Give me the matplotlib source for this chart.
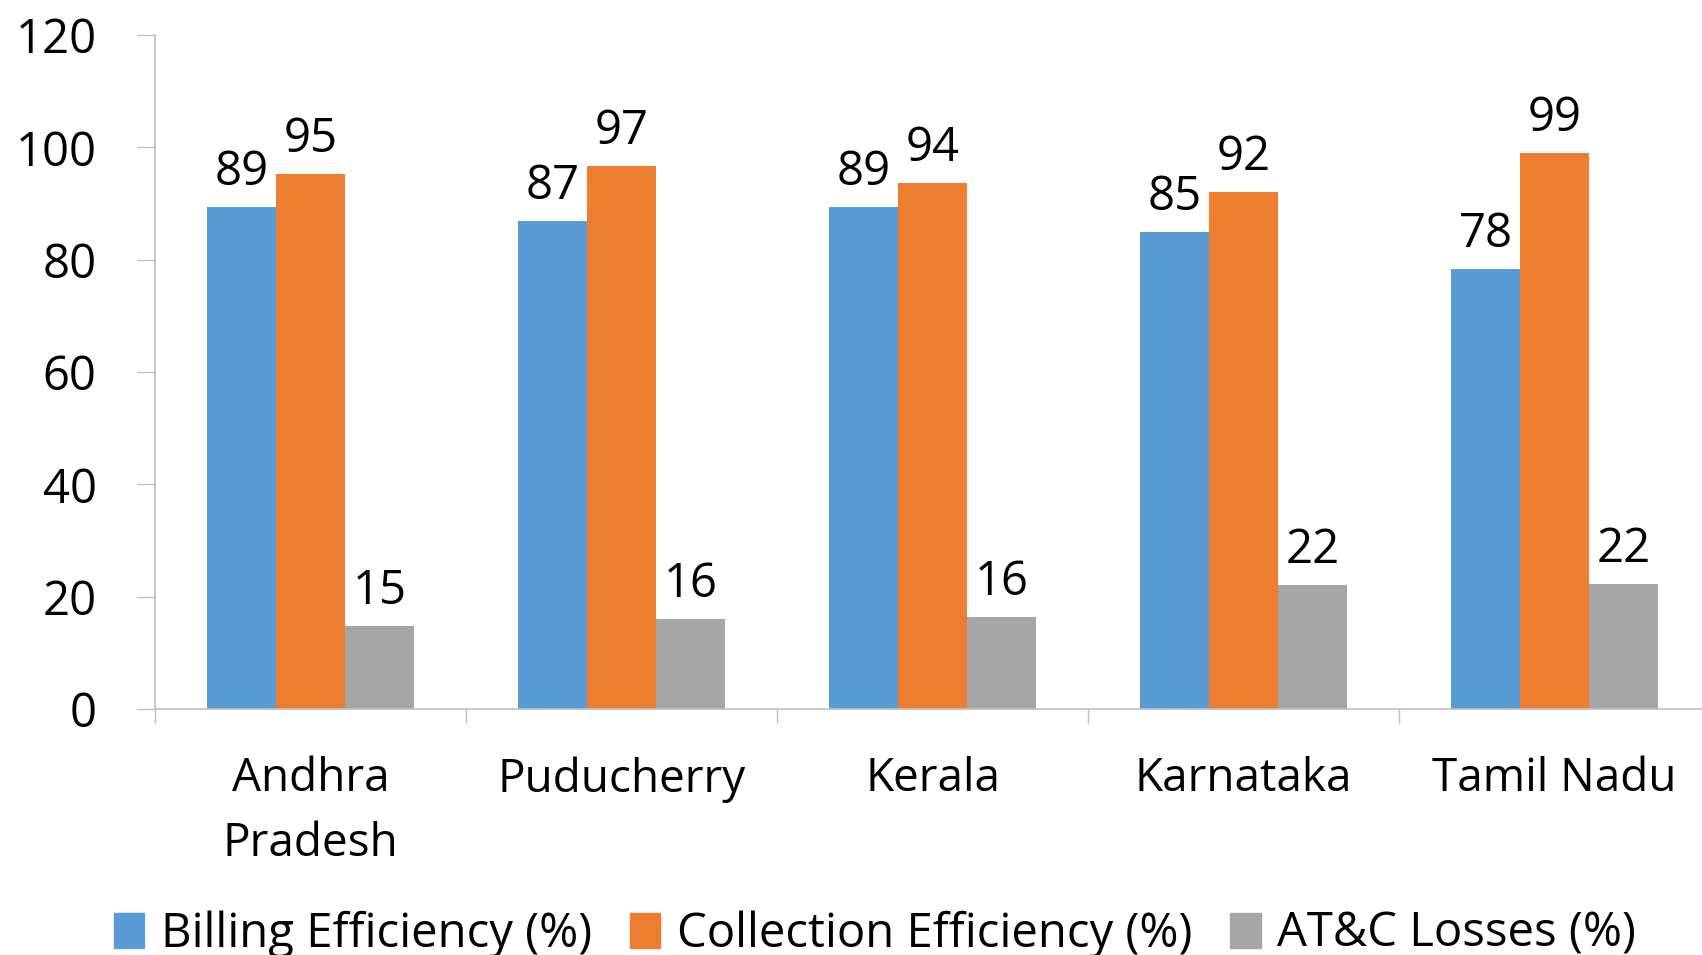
import numpy as np
import matplotlib
matplotlib.use("Agg")
from matplotlib import pyplot as plt
from matplotlib.patches import Patch

# data
states = ["Andhra\nPradesh", "Puducherry", "Kerala", "Karnataka", "Tamil Nadu"]
billing = [89.4, 86.9, 89.4, 84.9, 78.4]
collection = [95.3, 96.7, 93.6, 92.0, 99.0]
atc_losses = [14.8, 16.0, 16.3, 22.0, 22.3]
series_names = ["Billing Efficiency (%)", "Collection Efficiency (%)", "AT&C Losses (%)"]
colors = ["#5B9BD5", "#ED7D31", "#A5A5A5"]

plt.rcParams["font.family"] = ["Open Sans", "DejaVu Sans"]

fig = plt.figure(figsize=(17.02, 9.55), dpi=100)
ax = fig.add_axes([0.0911, 0.2576, 0.9136, 0.7058])

x = np.arange(len(states))
w = 0.222
for i, vals in enumerate([billing, collection, atc_losses]):
    bars = ax.bar(x + (i - 1) * w, vals, width=w, color=colors[i], label=series_names[i])
    for b, v in zip(bars, vals):
        ax.annotate("{:.0f}".format(v), (b.get_x() + b.get_width() / 2, v),
                    xytext=(0, 8), textcoords="offset points",
                    ha="center", va="bottom", fontsize=34)

ax.set_xlim(-0.5, len(states) - 0.5)
ax.set_ylim(0, 120)
ax.set_yticks(range(0, 121, 20))
ax.tick_params(axis="y", labelsize=34, length=13, width=1, color="#bfbfbf", pad=29)

# boundaries as major ticks, category names on minor ticks
ax.set_xticks(np.arange(-0.5, len(states), 1.0))
ax.set_xticklabels([])
ax.set_xticks(x, minor=True)
ax.set_xticklabels(states, minor=True, fontsize=33, linespacing=1.55)
ax.tick_params(axis="x", which="major", length=10, width=1, color="#bfbfbf")
ax.tick_params(axis="x", which="minor", length=0, pad=34)

for s in ["top", "right"]:
    ax.spines[s].set_visible(False)
for s in ["left", "bottom"]:
    ax.spines[s].set_color("#bfbfbf")
    ax.spines[s].set_linewidth(1.2)

handles = [Patch(color=c) for c in colors]
fig.legend(handles, series_names, loc="center", bbox_to_anchor=(0.514, 0.022),
           ncol=3, frameon=False, fontsize=34, handlelength=0.65, handleheight=0.75,
           handletextpad=0.35, columnspacing=0.8)

fig.savefig("out.png", dpi=100)
